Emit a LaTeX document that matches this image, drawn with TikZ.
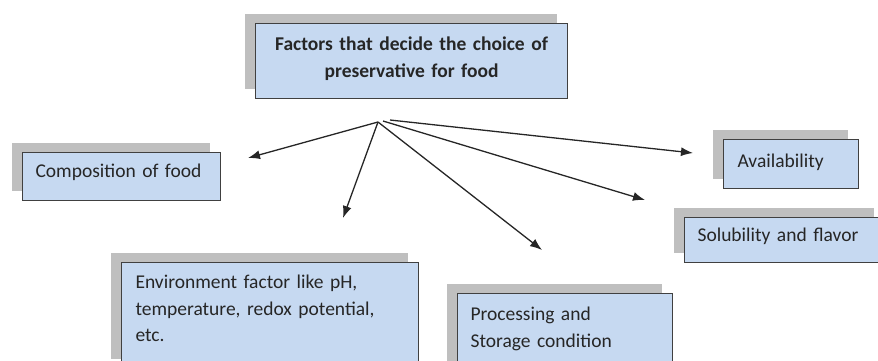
\documentclass[tikz,border=0pt]{standalone}
\usepackage{fontspec}
\setmainfont{Carlito}
\usetikzlibrary{arrows.meta,shadows}
\definecolor{boxblue}{HTML}{C6D9F1}
\definecolor{boxline}{HTML}{404040}
\definecolor{shadowgray}{HTML}{BFBFBF}

\begin{document}
\begin{tikzpicture}[x=1pt,y=-1pt,
  factor/.style={draw=boxline,line width=1.1pt,fill=boxblue,anchor=north west,
    align=left,inner xsep=13pt,inner ysep=0pt,text=black!85,
    font=\fontsize{19.5}{26.5}\selectfont,
    drop shadow={shadow xshift=-11pt,shadow yshift=10pt,fill=shadowgray,opacity=1}},
  pointer/.style={-{Latex[length=12pt,width=9pt]},line width=1.3pt,draw=black!85}]
\useasboundingbox (0,0) rectangle (878,360);
% Title box
\node[factor,font=\bfseries\fontsize{19.5}{27}\selectfont,align=center,inner xsep=0pt,
  text width=312pt,text height=27pt,text depth=48pt] (title) at (255,23)
  {Factors that decide the choice of\\preservative for food};
% Factor boxes
\node[factor,text width=172pt,text height=25pt,text depth=23pt] (composition) at (22,152)
  {Composition of food};
\node[factor,inner xsep=14pt,text width=107pt,text height=28pt,text depth=21pt] (availability) at (723,139)
  {Availability};
\node[factor,text width=174pt,text height=24pt,text depth=21pt] (solubility) at (684,217)
  {Solubility and flavor};
\node[factor,inner xsep=14pt,text width=269pt,text height=26pt,text depth=80pt] (environment) at (121,262)
  {Environment factor like pH,\\temperature, redox potential,\\etc.};
\node[factor,text width=189pt,text height=27pt,text depth=50pt] (processing) at (457,293)
  {Processing and\\Storage condition};
% Arrow starts below the title
\coordinate (hub)      at (378,122);
\coordinate (hubmid)   at (383,121);
\coordinate (hubright) at (390,120);
% Arrow ends
\coordinate (tocomposition)  at (248,158);
\coordinate (toenvironment)  at (343,218);
\coordinate (toprocessing)   at (542,250);
\coordinate (tosolubility)   at (645,200);
\coordinate (toavailability) at (693,153);
\draw[pointer] (hub) -- (tocomposition);
\draw[pointer] (hub) -- (toenvironment);
\draw[pointer] (hub) -- (toprocessing);
\draw[pointer] (hubmid) -- (tosolubility);
\draw[pointer] (hubright) -- (toavailability);
\end{tikzpicture}
\end{document}
